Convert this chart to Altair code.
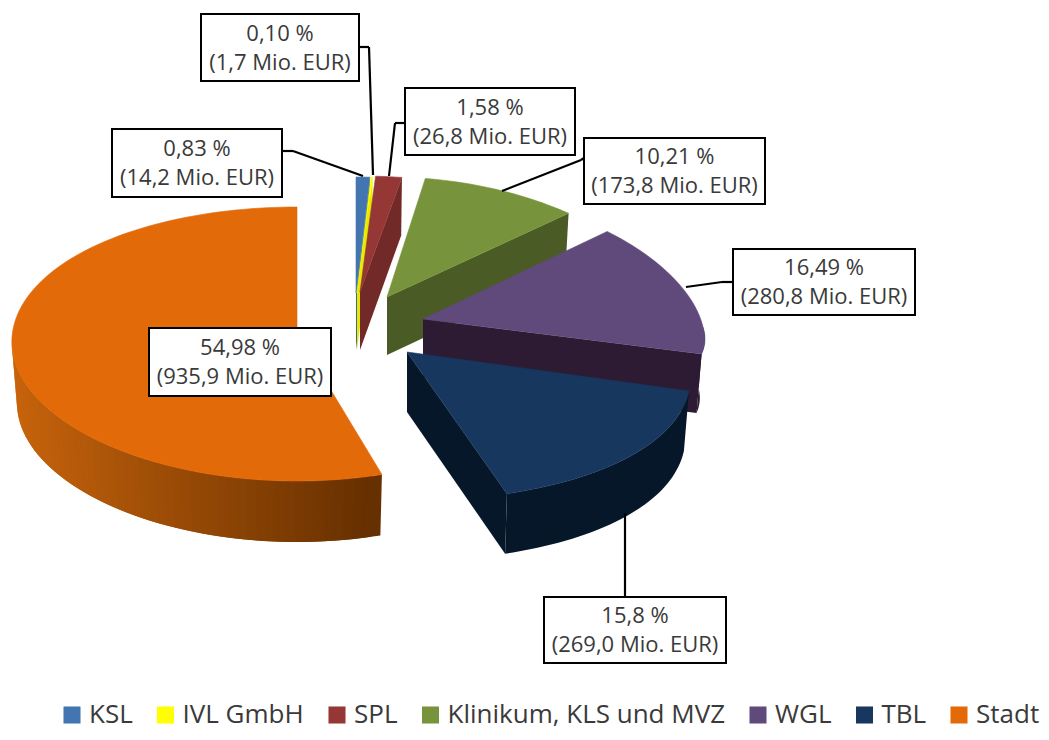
import math
import altair as alt
import pandas as pd

names = ["KSL", "IVL GmbH", "SPL", "Klinikum, KLS und MVZ", "WGL", "TBL", "Stadt"]
shares = [0.83, 0.10, 1.58, 10.21, 16.49, 15.80, 54.98]
share_text = ["0,83 %", "0,10 %", "1,58 %", "10,21 %", "16,49 %", "15,8 %", "54,98 %"]
eur_text = ["(14,2 Mio. EUR)", "(1,7 Mio. EUR)", "(26,8 Mio. EUR)", "(173,8 Mio. EUR)",
            "(280,8 Mio. EUR)", "(269,0 Mio. EUR)", "(935,9 Mio. EUR)"]
top_colors = ["#4376B0", "#FFFF00", "#953735", "#77933C", "#604A7B", "#17375E", "#E36A08"]
wall_colors = ["#3A6699", "#E8E800", "#722A28", "#4A5B25", "#2C1B33", "#06172A", "#6A3000"]

M = 8  # page margin
W, H = 1033, 724

# exploded-slice layout: apex x,y / radius / perspective / centre shift / back & front radius / depth
layout = [
    (356, 293, 267, 0.0, 0, 116, 116, 57),
    (357, 293, 267, 0.0, 0, 116, 116, 57),
    (360, 292, 267, 0.0, 0, 116, 116, 58),
    (387, 297, 276, 0.118, 0, 120, 120, 58),
    (423, 319, 280, 0.118, 8, 137, 103, 59),
    (407, 352, 280, 0.166, 0, 149, 149, 60),
    (297, 334, 285, -0.035, 13, 140, 134, 61),
]
# label boxes: left, right, top, bottom
boxes = [(112, 282, 129, 197), (201, 359, 14, 81), (405, 575, 88, 155), (584, 765, 138, 204),
         (733, 915, 249, 315), (544, 726, 597, 663), (149, 331, 328, 396)]
# leader lines, one per box, as consecutive points
leaders = [
    [(282, 151), (293, 151), (363, 176)],
    [(359, 47), (369, 47), (373, 175)],
    [(405, 123), (395, 123), (389, 176)],
    [(584, 158), (581, 160), (502, 191)],
    [(733, 282), (722, 282), (686, 287)],
    [(625, 597), (625, 513)],
    [],
]


def rim(slice_i, deg, bottom=False):
    ax, ay, r, k, off, ryb, ryf, depth = layout[slice_i]
    t = math.radians(deg)
    c, s = math.cos(t), math.sin(t)
    x = r * (1 - k * c) * s
    y = off - (ryb if c > 0 else ryf) * c
    if bottom:
        return [ax + 0.982 * x - M, ay + y + depth - M]
    return [ax + x - M, ay + y - M]


def feature(ring, name, fill):
    ring = ring + [ring[0]]
    return {"type": "Feature", "geometry": {"type": "Polygon", "coordinates": [ring]},
            "properties": {"name": name, "fill": fill}}


def lerp_color(a, b, f):
    pa = [int(a[i:i + 2], 16) for i in (1, 3, 5)]
    pb = [int(b[i:i + 2], 16) for i in (1, 3, 5)]
    return "#" + "".join(f"{round(u + (v - u) * f):02x}" for u, v in zip(pa, pb))


total = sum(shares)
tops, walls = [], []
acc = 0.0
for i, share in enumerate(shares):
    a0 = acc / total * 360
    acc += share
    a1 = acc / total * 360
    ax, ay, *_rest = layout[i]
    depth = layout[i][7]
    n = max(2, int((a1 - a0) / 1.5))
    angles = [a0 + (a1 - a0) * j / n for j in range(n + 1)]
    apex = [ax - M, ay - M]
    tops.append(feature([apex] + [rim(i, a) for a in angles], names[i], top_colors[i]))
    # cut face at the end of the slice
    end_top, end_bot = rim(i, a1), rim(i, a1, True)
    walls.append(feature([apex, end_top, end_bot, [apex[0], apex[1] + depth]], names[i], wall_colors[i]))
    # outer rim wall, front half only
    lo, hi = max(a0, 90), min(a1, 270)
    if hi > lo:
        if names[i] == "Stadt":
            # shaded wall: overlapping bands, painted from the left-hand side towards the tip
            steps = max(2, int((hi - lo) / 2.0))
            for j in reversed(range(steps)):
                b0 = lo + (hi - lo) * j / steps
                b1 = min(hi, lo + (hi - lo) * (j + 2) / steps)
                fx = (rim(i, b0)[0] - rim(i, 270)[0]) / (rim(i, a0)[0] - rim(i, 270)[0])
                fill = lerp_color("#C8640C", "#673000", min(1, max(0, fx)))
                walls.append(feature([rim(i, b0), rim(i, b1), rim(i, b1, True), rim(i, b0, True)], names[i], fill))
        else:
            steps = max(2, int((hi - lo) / 1.5))
            arc = [lo + (hi - lo) * j / steps for j in range(steps + 1)]
            walls.append(feature([rim(i, a) for a in arc] + [rim(i, a, True) for a in reversed(arc)],
                                 names[i], wall_colors[i]))

proj = alt.Projection(type="identity", scale=1, translate=[0, 0])

wall_layer = alt.Chart(alt.Data(values=walls)).mark_geoshape(filled=True, strokeWidth=0).encode(
    color=alt.Color("properties.fill:N", scale=None),
).project(**proj.to_dict())

top_layer = alt.Chart(alt.Data(values=tops)).mark_geoshape(filled=True, strokeWidth=0.6).encode(
    color=alt.Color(
        "properties.name:N",
        scale=alt.Scale(domain=names, range=top_colors),
        legend=alt.Legend(
            title=None, orient="none", legendX=51, legendY=694, direction="horizontal", columns=7,
            symbolType="square", symbolSize=290, symbolStrokeWidth=0, labelFont="Open Sans",
            labelFontSize=26, labelColor="#3a3a3a", columnPadding=19.5, labelOffset=4, labelLimit=400,
        ),
    ),
    stroke=alt.Stroke("properties.fill:N", scale=None),
).project(**proj.to_dict())

box_df = pd.DataFrame([
    {"x": b[0] - M, "x2": b[1] - M, "y": b[2] - M, "y2": b[3] - M} for b in boxes
])
box_layer = alt.Chart(box_df).mark_rect(fill="white", stroke="black", strokeWidth=2).encode(
    x=alt.X("x:Q", scale=None), x2="x2:Q", y=alt.Y("y:Q", scale=None), y2="y2:Q"
)

segs = []
for pts in leaders:
    for p, q in zip(pts, pts[1:]):
        segs.append({"x": p[0] - M, "y": p[1] - M, "x2": q[0] - M, "y2": q[1] - M})
rule_layer = alt.Chart(pd.DataFrame(segs)).mark_rule(color="black", strokeWidth=2.2).encode(
    x=alt.X("x:Q", scale=None), x2="x2:Q", y=alt.Y("y:Q", scale=None), y2="y2:Q"
)

text_rows = []
for b, s, e in zip(boxes, share_text, eur_text):
    cx = (b[0] + b[1]) / 2 - M
    cy = (b[2] + b[3]) / 2 - M
    text_rows.append({"x": cx, "y": cy - 14, "t": s})
    text_rows.append({"x": cx, "y": cy + 15, "t": e})
text_layer = alt.Chart(pd.DataFrame(text_rows)).mark_text(
    font="Open Sans", fontSize=22, color="#3a3a3a", baseline="middle", align="center"
).encode(x=alt.X("x:Q", scale=None), y=alt.Y("y:Q", scale=None), text="t:N")

chart = alt.layer(wall_layer, top_layer, rule_layer, box_layer, text_layer).resolve_scale(
    color="independent", stroke="independent"
).properties(width=W, height=H, autosize="none", padding=0).configure_view(stroke=None)

chart.save("out.html", embed_options={"renderer": "svg", "actions": False})
